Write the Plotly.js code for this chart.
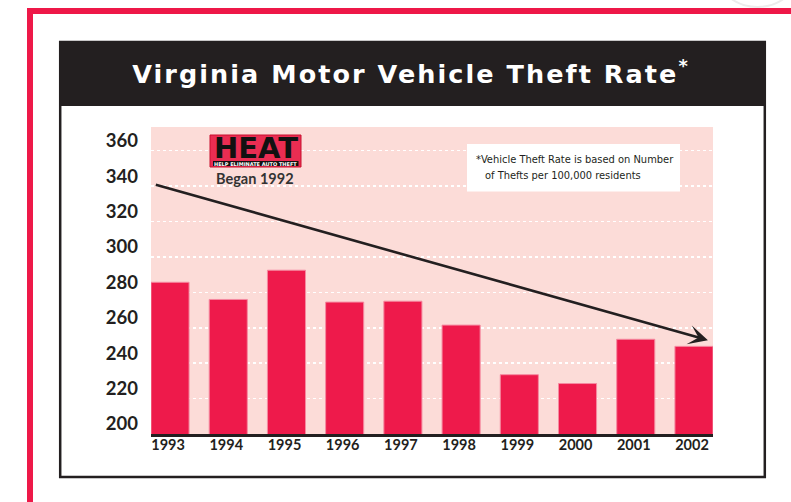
<!DOCTYPE html>
<html>
<head>
<meta charset="utf-8">
<script src="https://cdn.plot.ly/plotly-3.0.1.min.js"></script>
<style>
html,body{margin:0;padding:0;background:#fff;}
#chart{width:791px;height:502px;}
</style>
</head>
<body>
<div id="chart"></div>
<script>
// ---- data ----
const years = ['1993','1994','1995','1996','1997','1998','1999','2000','2001','2002'];
const theftRate = [285.7, 276, 292.5, 274.5, 275, 261.5, 233.5, 228.5, 253.5, 249.5];
const yTickVals = [200, 220, 240, 260, 280, 300, 320, 340, 360];
const yTickText = ['200','220','240','260','280','300','320','340','360'];
const titleText = 'Virginia Motor Vehicle Theft Rate';
const noteLine1 = '*Vehicle Theft Rate is based on Number';
const noteLine2 = 'of Thefts per 100,000 residents';
const logoText = 'HEAT';
const logoStrap = 'HELP ELIMINATE AUTO THEFT';
const logoCaption = 'Began 1992';
// trend arrow (tail and head, in data units)
const trendTail = {x: -0.27, y: 341};
const trendHead = {x: 9.24, y: 253};

// ---- layout helpers ----
const W = 791, H = 502;
const PL = 151, PR = 713, PT = 127, PB = 434;
const px = x => (x - PL) / (PR - PL);
const py = y => (PB - y) / (PB - PT);

const RED = '#ee1a4b';
const DARK = '#231f20';
const PINK = '#fcdcd8';

const shapes = [
  // outer red border
  {type:'rect', xref:'paper', yref:'paper', x0:px(30), x1:px(830), y0:py(11), y1:py(560),
   line:{color:'#ee1848', width:6}, fillcolor:'rgba(0,0,0,0)', layer:'below'},
  // faint seal in top-right corner
  {type:'circle', xref:'paper', yref:'paper', x0:px(715), x1:px(800), y0:py(7), y1:py(-70),
   line:{color:'#ececec', width:2}, fillcolor:'rgba(0,0,0,0)', layer:'below'},
  // frame
  {type:'rect', xref:'paper', yref:'paper', x0:px(60.2), x1:px(764.8), y0:py(42), y1:py(477),
   line:{color:DARK, width:2.5}, fillcolor:'#ffffff', layer:'below'},
  // header band
  {type:'rect', xref:'paper', yref:'paper', x0:px(59), x1:px(766), y0:py(41), y1:py(106),
   line:{width:0}, fillcolor:DARK, layer:'below'},
  // plot background
  {type:'rect', xref:'paper', yref:'paper', x0:0, x1:1, y0:0, y1:1,
   line:{width:0}, fillcolor:PINK, layer:'below'},
  // footnote box
  {type:'rect', xref:'paper', yref:'paper', x0:px(467), x1:px(680), y0:py(144), y1:py(191.5),
   line:{width:0}, fillcolor:'#ffffff', layer:'above'},
  // logo box
  {type:'rect', xref:'paper', yref:'paper', x0:px(210), x1:px(301), y0:py(135), y1:py(167),
   line:{color:'#c8102e', width:1}, fillcolor:'#ea2d52', layer:'above'},
  // logo strap
  {type:'rect', xref:'paper', yref:'paper', x0:px(213), x1:px(298.5), y0:py(161), y1:py(166),
   line:{width:0}, fillcolor:'#111111', layer:'above'}
];

const noteFont = {family:'Liberation Sans Narrow, DejaVu Sans Condensed, Liberation Sans, sans-serif', size:11, color:DARK};

const annotations = [
  {xref:'paper', yref:'paper', x:px(256), y:py(148), text:logoText, showarrow:false,
   xanchor:'center', yanchor:'middle', borderpad:0,
   font:{family:'DejaVu Sans', size:29, color:'#111111', weight:'bold'}},
  {xref:'paper', yref:'paper', x:px(255.7), y:py(163.6), text:logoStrap, showarrow:false,
   xanchor:'center', yanchor:'middle', borderpad:0,
   font:{family:'DejaVu Sans', size:5, color:'#ffffff', weight:'bold'}},
  {xref:'paper', yref:'paper', x:px(255), y:py(178.5), text:logoCaption, showarrow:false,
   xanchor:'center', yanchor:'middle',
   font:{family:'Lato', size:14.5, color:'#333333', weight:'bold'}},
  {xref:'paper', yref:'paper', x:px(474), y:py(159.5), text:noteLine1, showarrow:false,
   xanchor:'left', yanchor:'middle', font:noteFont},
  {xref:'paper', yref:'paper', x:px(483), y:py(175.5), text:noteLine2, showarrow:false,
   xanchor:'left', yanchor:'middle', font:noteFont},
  // trend arrow
  {xref:'x', yref:'y', axref:'x', ayref:'y', x:trendHead.x, y:trendHead.y, ax:trendTail.x, ay:trendTail.y,
   text:'', showarrow:true, arrowhead:3, arrowsize:1.25, arrowwidth:2.6, arrowcolor:DARK, standoff:0, startstandoff:0}
];

const trace = {
  type:'bar', x:years, y:theftRate, width:0.654,
  marker:{color:RED, line:{color:'#f58aa0', width:1}},
  hoverinfo:'none'
};

const layout = {
  width:W, height:H,
  margin:{l:PL, r:W-PR, t:PT, b:H-PB, pad:0},
  paper_bgcolor:'#ffffff',
  plot_bgcolor:'rgba(0,0,0,0)',
  showlegend:false,
  title:{text:titleText + '<sup>*</sup>', xref:'paper', yref:'container',
         x:px(411), y:1 - 74/H, xanchor:'center', yanchor:'middle',
         font:{family:'DejaVu Sans', size:25.5, color:'#ffffff', weight:'bold'}},
  xaxis:{type:'category', range:[-0.327, 9.327], showline:true, linecolor:DARK, linewidth:3,
         ticks:'', showgrid:false, zeroline:false, fixedrange:true,
         ticklabelstandoff:-4, ticklabelshift:-2,
         tickfont:{family:'Lato', size:14.5, color:DARK, weight:'bold'}},
  yaxis:{range:[200, 373.4], tickvals:yTickVals, ticktext:yTickText, ticks:'',
         showgrid:true, gridcolor:'#ffffff', gridwidth:1.5, griddash:'dot',
         zeroline:false, showline:false, ticklabelshift:-10, ticklabelstandoff:12,
         tickfont:{family:'Lato', size:18.5, color:DARK, weight:'bold'}, fixedrange:true},
  shapes:shapes,
  annotations:annotations
};

Plotly.newPlot('chart', [trace], layout, {staticPlot:true, displayModeBar:false}).then(gd => {
  const t = gd.querySelector('.gtitle');
  if (t) { t.style.letterSpacing = '2.05px'; }
});
</script>
</body>
</html>
